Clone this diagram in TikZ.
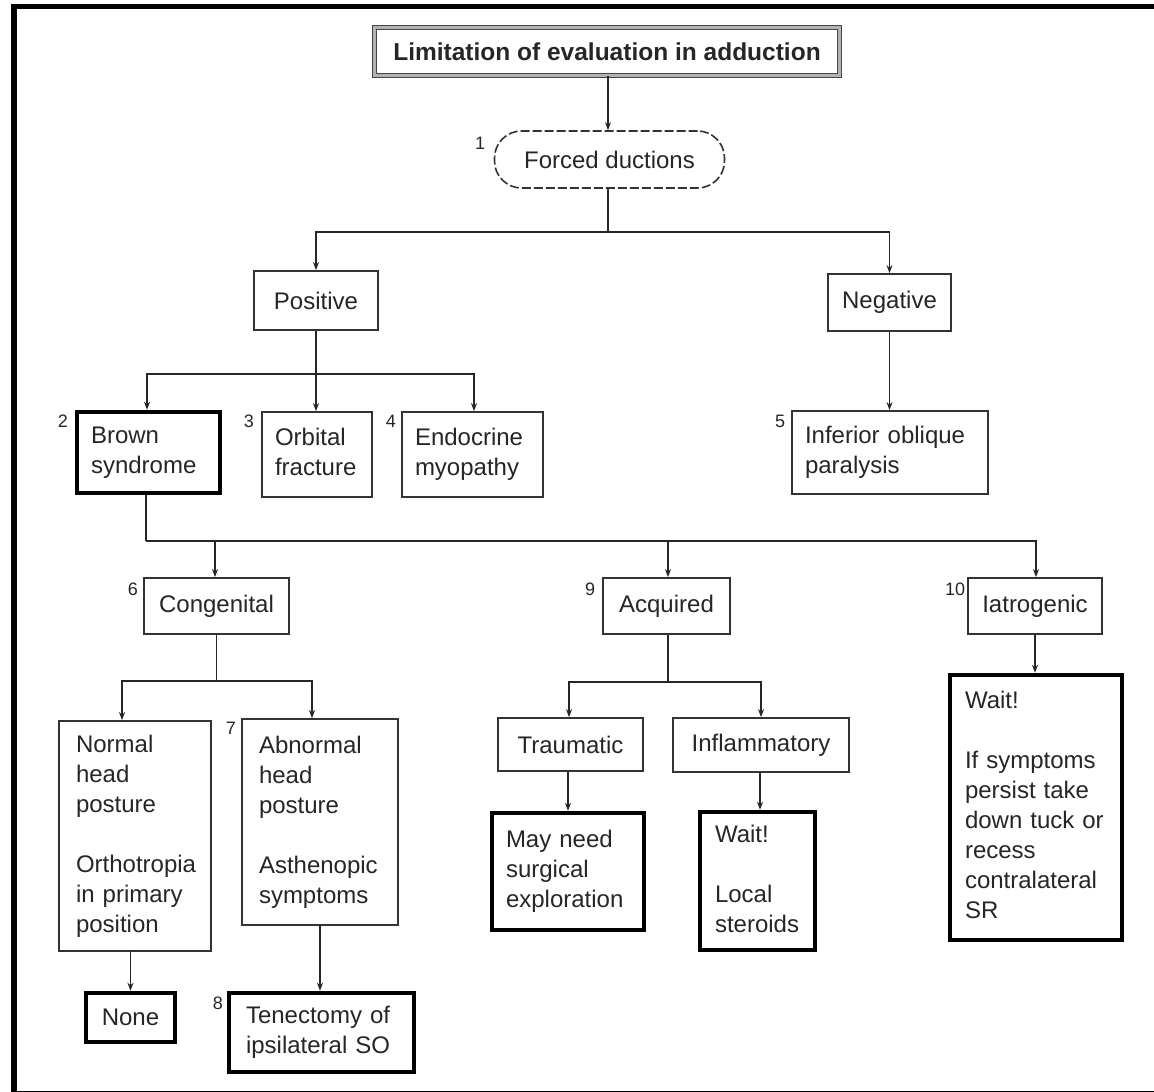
\documentclass[tikz,border=0pt]{standalone}
\usepackage{fontspec}
\setmainfont{Liberation Sans}
\usetikzlibrary{arrows.meta,calc}
\newcommand\boxlines[1]{\begin{tabular}{@{}l@{}}#1\end{tabular}}
\tikzset{
  conn/.style={draw=black!85, line width=1.7pt},
  arr/.style={-{Stealth[length=8pt,width=6pt]}},
  box/.style={draw=black!80, line width=1.8pt, inner sep=0pt, fill=white,
    font=\fontsize{24}{30}\selectfont, text=black!85},
  thickbox/.style={box, draw=black, line width=4.5pt},
  lbox/.style={align=left},
  num/.style={font=\fontsize{18}{20}\selectfont, text=black!85, inner sep=0pt},
}
\begin{document}
\begin{tikzpicture}[x=1pt,y=-1pt]
\useasboundingbox (0,0) rectangle (1154,1092);
\fill[white] (0,0) rectangle (1154,1092);
% outer frame
\draw[line width=5.5pt, black] (1170,6.5) -- (14,6.5) -- (14,1094) -- (1170,1094);

% nodes
\node[box, draw=gray!55!black, double=gray!60, double distance=3pt, line width=1pt,
  minimum width=465pt, minimum height=48pt, font=\bfseries\fontsize{24.5}{30}\selectfont]
  (title) at (607,51.5) {Limitation of evaluation in adduction};
\node[box, dashed, dash pattern=on 9pt off 3pt, line width=1.6pt, rounded corners=27pt,
  minimum width=230pt, minimum height=57pt] (fd) at (609.5,159.5) {Forced ductions};
\node[box, minimum width=124pt, minimum height=59pt] (pos) at (316,300.5) {Positive};
\node[box, minimum width=123pt, minimum height=57pt] (neg) at (889.5,302.5) {Negative};

\node[thickbox, lbox, minimum width=143pt, minimum height=81pt, text width=115pt]
  (brown) at (148.5,452.5) {\boxlines{Brown\\syndrome}};
\node[box, lbox, minimum width=110pt, minimum height=85pt, text width=84pt]
  (orb) at (317,454.5) {\boxlines{Orbital\\fracture}};
\node[box, lbox, minimum width=141pt, minimum height=85pt, text width=115pt]
  (endo) at (472.5,454.5) {\boxlines{Endocrine\\myopathy}};
\node[box, lbox, minimum width=196pt, minimum height=83pt, text width=170pt]
  (iop) at (890,452.5) {\boxlines{Inferior oblique\\paralysis}};

\node[box, minimum width=145pt, minimum height=56pt] (cong) at (216.5,606) {Congenital};
\node[box, minimum width=127pt, minimum height=56pt] (acq) at (666.5,606) {Acquired};
\node[box, minimum width=134pt, minimum height=56pt] (iat) at (1035,606) {Iatrogenic};

\node[box, lbox, minimum width=152pt, minimum height=230pt, text width=118pt]
  (normal) at (135,836) {\boxlines{Normal\\head\\posture\\[30pt]Orthotropia\\in primary\\position}};
\node[box, lbox, minimum width=156pt, minimum height=206pt, text width=122pt]
  (abn) at (320,822) {\boxlines{Abnormal\\head\\posture\\[30pt]Asthenopic\\symptoms}};

\node[box, minimum width=145pt, minimum height=53pt] (trau) at (570.5,744.5) {Traumatic};
\node[box, minimum width=176pt, minimum height=54pt] (infl) at (761,745) {Inflammatory};

\node[thickbox, lbox, minimum width=152pt, minimum height=117pt, text width=124pt]
  (may) at (568,871.5) {\boxlines{May need\\surgical\\exploration}};
\node[thickbox, lbox, minimum width=115pt, minimum height=138pt, text width=85pt]
  (wait1) at (757.5,881) {\boxlines{Wait!\\[30pt]Local\\steroids}};
\node[thickbox, lbox, minimum width=172pt, minimum height=265pt, text width=142pt]
  (wait2) at (1036,807.5) {\boxlines{Wait!\\[30pt]If symptoms\\persist take\\down tuck or\\recess\\contralateral\\SR}};

\node[thickbox, minimum width=89pt, minimum height=49pt] (none) at (130.5,1017.5) {None};
\node[thickbox, lbox, minimum width=185pt, minimum height=79pt, text width=151pt]
  (tenec) at (321.5,1032.5) {\boxlines{Tenectomy of\\ipsilateral SO}};

% numbers
\node[num] (n1) at (480,143) {1};
\node[num] (n2) at (63,421) {2};
\node[num] (n3) at (249,421) {3};
\node[num] (n4) at (391,421) {4};
\node[num] (n5) at (780,421) {5};
\node[num] (n6) at (133,589) {6};
\node[num] (n9) at (590,589) {9};
\node[num] (n10) at (955,589) {10};
\node[num] (n7) at (231,728) {7};
\node[num] (n8) at (218,1003) {8};

% connectors
\draw[conn,arr] ([xshift=1pt]title.south) -- ([xshift=1pt]title.south |- fd.north);
\draw[conn] ([xshift=-1.5pt]fd.south) -- ++(0,43) coordinate (s1);
\draw[conn,arr] (s1) -| (pos.north);
\draw[conn,arr] (s1) -| (neg.north);

\draw[conn] (pos.south) -- ++(0,43) coordinate (s2);
\draw[conn,arr] (s2) -| ([xshift=-1.5pt]brown.north);
\draw[conn,arr] (s2) -- (s2 |- orb.north);
\draw[conn,arr] (s2) -| ([xshift=1.5pt]endo.north);
\draw[conn,arr] (neg.south) -- (neg.south |- iop.north);

\draw[conn] ([xshift=-2.5pt]brown.south) -- ++(0,45.5) coordinate (s3);
\draw[conn,arr] (s3) -| ([xshift=-1.5pt]cong.north);
\draw[conn,arr] (s3) -| ([xshift=1.5pt]acq.north);
\draw[conn,arr] (s3) -| ([xshift=1pt]iat.north);

\draw[conn] (cong.south) -- ++(0,46) coordinate (s4);
\draw[conn,arr] (s4) -| ([xshift=-13pt]normal.north);
\draw[conn,arr] (s4) -| ([xshift=-8pt]abn.north);

\draw[conn] ([xshift=1.5pt]acq.south) -- ++(0,47) coordinate (s5);
\draw[conn,arr] (s5) -| ([xshift=-1.5pt]trau.north);
\draw[conn,arr] (s5) -| (infl.north);

\draw[conn,arr] (iat.south) -- (iat.south |- wait2.north);
\draw[conn,arr] ([xshift=-2.5pt]trau.south) -- ([xshift=-2.5pt]trau.south |- may.north);
\draw[conn,arr] ([xshift=-1pt]infl.south) -- ([xshift=-1pt]infl.south |- wait1.north);
\draw[conn,arr] (none.north |- normal.south) -- (none.north);
\draw[conn,arr] (abn.south) -- (abn.south |- tenec.north);
\end{tikzpicture}
\end{document}
